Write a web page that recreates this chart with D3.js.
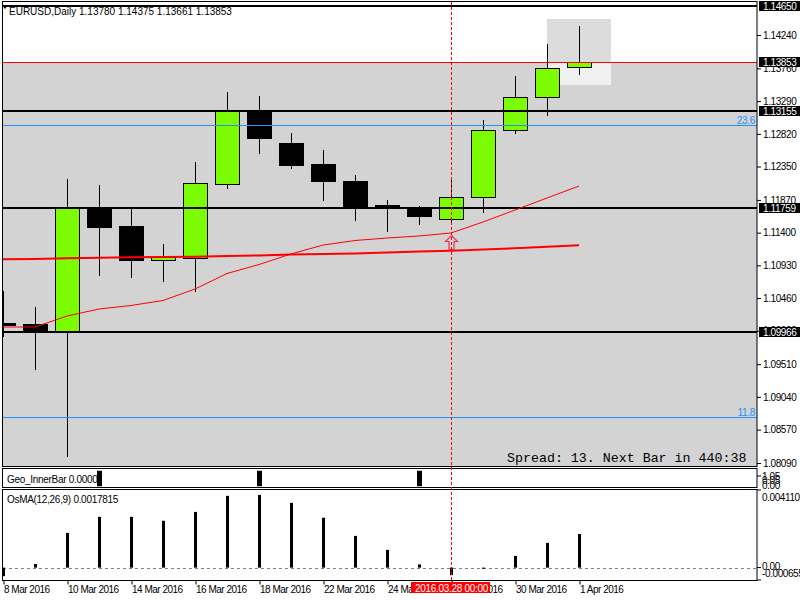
<!DOCTYPE html>
<html>
<head>
<meta charset="utf-8">
<script src="https://cdnjs.cloudflare.com/ajax/libs/d3/7.8.5/d3.min.js"></script>
<style>
  body { margin: 0; background: #fff; }
  svg text { font-family: "Liberation Sans", Arial, sans-serif; font-size: 10px; }
</style>
</head>
<body>
<div id="chart"></div>
<script>
// EURUSD daily bars
const dates = ["2016-03-08", "2016-03-09", "2016-03-10", "2016-03-11", "2016-03-14", "2016-03-15",
    "2016-03-16", "2016-03-17", "2016-03-18", "2016-03-21", "2016-03-22", "2016-03-23", "2016-03-24",
    "2016-03-25", "2016-03-28", "2016-03-29", "2016-03-30", "2016-03-31", "2016-04-01"];
const opens  = [1.10102, 1.10087, 1.09972, 1.11754, 1.11495, 1.11000, 1.11036, 1.12106, 1.13155, 1.12681,
    1.12386, 1.12142, 1.11797, 1.11761, 1.11596, 1.11919, 1.12882, 1.13356, 1.13780];
const highs  = [1.10561, 1.10331, 1.12171, 1.12084, 1.11754, 1.11237, 1.12415, 1.13421, 1.13363, 1.12832,
    1.12587, 1.12228, 1.11869, 1.11783, 1.12156, 1.13019, 1.13651, 1.14111, 1.14375];
const lows   = [1.09900, 1.09426, 1.08176, 1.10777, 1.10748, 1.10691, 1.10547, 1.12027, 1.12530, 1.12314,
    1.11855, 1.11567, 1.11409, 1.11510, 1.11510, 1.11682, 1.12817, 1.13076, 1.13661];
const closes = [1.10073, 1.09972, 1.11754, 1.11481, 1.11000, 1.11050, 1.12113, 1.13141, 1.12753, 1.12379,
    1.12135, 1.11790, 1.11761, 1.11646, 1.11919, 1.12882, 1.13342, 1.13773, 1.13853];

// moving averages
const maFast = [1.10044, 1.10044, 1.10202, 1.10303, 1.10353, 1.10425, 1.10590, 1.10813, 1.10942, 1.11093,
    1.11222, 1.11287, 1.11323, 1.11352, 1.11395, 1.11553, 1.11725, 1.11898, 1.12070];
const maSlow = [1.11017, 1.11021, 1.11031, 1.11040, 1.11046, 1.11050, 1.11054, 1.11064, 1.11071, 1.11086,
    1.11093, 1.11100, 1.11115, 1.11129, 1.11140, 1.11158, 1.11175, 1.11196, 1.11218];

// indicators
const innerBar = [0, 0, 0, 1, 0, 0, 0, 0, 1, 0, 0, 0, 0, 1, 0, 0, 0, 0, 0];
const osma = [-0.00045, 0.00019, 0.00184, 0.00269, 0.00269, 0.00248, 0.00295, 0.00380, 0.00385, 0.00343,
    0.00264, 0.00168, 0.00094, 0.00017, -0.00040, -0.00006, 0.00062, 0.00131, 0.0017815];

// axis ticks
const priceTicks = [1.14240, 1.13760, 1.13290, 1.12820, 1.12350, 1.11870, 1.11400, 1.10930, 1.10460,
    1.09990, 1.09510, 1.09040, 1.08570, 1.08090];
const dateTicks = ["2016-03-08", "2016-03-10", "2016-03-14", "2016-03-16", "2016-03-18", "2016-03-22",
    "2016-03-24", "2016-03-28", "2016-03-30", "2016-04-01"];
const dateTickLabels = ["8 Mar 2016", "10 Mar 2016", "14 Mar 2016", "16 Mar 2016", "18 Mar 2016",
    "22 Mar 2016", "24 Mar 2016", "28 Mar 2016", "30 Mar 2016", "1 Apr 2016"];

// chart objects
const levelPrices = [1.14650, 1.13155, 1.11759, 1.09966];
const bidPrice = 1.13853;
const fiboNames = ["23.6", "11.8"];
const fiboPrices = [1.12947, 1.08751];
const boxDates = ["2016-03-31", "2016-04-01"];
const boxPrices = [1.14470, 1.13522];
const arrowDate = "2016-03-28";
const arrowPrice = 1.11366;
const crossDate = "2016-03-28";

const L = 3, R = 757;
const mainTop = 2, mainBottom = 466;

const svg = d3.select("#chart").append("svg")
    .attr("width", 800)
    .attr("height", 600);

const x = d3.scalePoint().domain(dates).range([3, 579]);
const y = d3.scaleLinear().domain([1.08090, 1.14240]).range([463, 35]);
const yGeo = d3.scaleLinear().domain([-0.05, 1.05]).range([487, 470]);
const yOsma = d3.scaleLinear().domain([-0.000655, 0.004110]).range([580, 490]);

svg.append("defs").append("clipPath").attr("id", "clipMain")
    .append("rect").attr("x", L).attr("y", mainTop).attr("width", R - L).attr("height", mainBottom - mainTop);

const main = svg.append("g").attr("clip-path", "url(#clipMain)");

// grey area below the bid price
main.append("rect")
    .attr("x", L).attr("width", R - L)
    .attr("y", Math.round(y(bidPrice)))
    .attr("height", mainBottom - Math.round(y(bidPrice)))
    .attr("fill", "#d3d3d3");

// highlight box on the last bar
const bx0 = x(boxDates[0]), bx1 = x(boxDates[1]) + x.step();
main.append("rect")
    .attr("x", bx0).attr("width", bx1 - bx0)
    .attr("y", y(boxPrices[0])).attr("height", Math.round(y(bidPrice)) - y(boxPrices[0]))
    .attr("fill", "#dcdcdc");
main.append("rect")
    .attr("x", bx0).attr("width", bx1 - bx0)
    .attr("y", Math.round(y(bidPrice))).attr("height", y(boxPrices[1]) - Math.round(y(bidPrice)))
    .attr("fill", "#f0f0f0");

// candles
const bars = dates.map((d, i) => ({ d, o: opens[i], h: highs[i], l: lows[i], c: closes[i] }));
const candle = main.append("g").selectAll("g")
    .data(bars)
    .enter().append("g");

candle.append("line")
    .attr("x1", d => x(d.d) + 0.5).attr("x2", d => x(d.d) + 0.5)
    .attr("y1", d => Math.round(y(d.h))).attr("y2", d => Math.round(y(d.l)))
    .attr("stroke", "#000")
    .attr("stroke-width", 1);

candle.append("rect")
    .attr("x", d => x(d.d) - 11.5)
    .attr("width", 24)
    .attr("y", d => Math.round(y(Math.max(d.o, d.c))) + 0.5)
    .attr("height", d => Math.max(1, Math.round(y(Math.min(d.o, d.c))) - Math.round(y(Math.max(d.o, d.c)))))
    .attr("fill", d => d.c >= d.o ? "#7cfc00" : "#000")
    .attr("stroke", "#000")
    .attr("stroke-width", 1);

// fibo lines
main.selectAll(".fibo")
    .data(fiboPrices)
    .enter().append("line")
    .attr("x1", L).attr("x2", R)
    .attr("y1", d => Math.round(y(d)) + 0.5).attr("y2", d => Math.round(y(d)) + 0.5)
    .attr("stroke", "#1e90ff")
    .attr("shape-rendering", "crispEdges");

main.selectAll(".fiboLabel")
    .data(fiboPrices)
    .enter().append("text")
    .attr("x", 755)
    .attr("y", d => Math.round(y(d)) - 1)
    .attr("text-anchor", "end")
    .attr("fill", "#1e90ff")
    .attr("letter-spacing", "-0.3")
    .text((d, i) => fiboNames[i]);

// horizontal levels
main.selectAll(".level")
    .data(levelPrices)
    .enter().append("line")
    .attr("x1", L).attr("x2", R)
    .attr("y1", d => Math.round(y(d))).attr("y2", d => Math.round(y(d)))
    .attr("stroke", "#000")
    .attr("stroke-width", 2);

main.append("line")
    .attr("x1", L).attr("x2", R)
    .attr("y1", Math.round(y(bidPrice)) + 0.5).attr("y2", Math.round(y(bidPrice)) + 0.5)
    .attr("stroke", "#ff0000")
    .attr("shape-rendering", "crispEdges");

// moving averages
const maLine = d3.line()
    .x((d, i) => x(dates[i]))
    .y(d => y(d));

main.append("path")
    .datum(maSlow)
    .attr("d", maLine)
    .attr("fill", "none")
    .attr("stroke", "#ff0000")
    .attr("stroke-width", 2);

main.append("path")
    .datum(maFast)
    .attr("d", maLine)
    .attr("fill", "none")
    .attr("stroke", "#ff0000")
    .attr("stroke-width", 1);

// up arrow signal
const ax = x(arrowDate), ay = y(arrowPrice);
main.append("path")
    .attr("d", `M${ax},${ay} l6,6 h-3.5 v8 h-5 v-8 h-3.5 z`)
    .attr("transform", "translate(0.5,0.5)")
    .attr("fill", "none")
    .attr("stroke", "#f0304c")
    .attr("stroke-width", 1.2);

main.append("text")
    .attr("x", 507)
    .attr("y", 462)
    .style("font-family", "'Liberation Mono', 'Courier New', monospace")
    .style("font-size", "13.3px")
    .attr("fill", "#000")
    .text("Spread: 13. Next Bar in 440:38");

// geo inner bar panel
svg.append("g").selectAll("rect")
    .data(innerBar)
    .enter().append("rect")
    .attr("x", (d, i) => x(dates[i]) - 2)
    .attr("width", 5)
    .attr("y", d => yGeo(d))
    .attr("height", d => yGeo(0) - yGeo(d))
    .attr("fill", "#000");

// osma panel
svg.append("line")
    .attr("x1", L).attr("x2", R)
    .attr("y1", Math.round(yOsma(0)) + 0.5).attr("y2", Math.round(yOsma(0)) + 0.5)
    .attr("stroke", "#808080")
    .attr("stroke-dasharray", "3,3");

svg.append("g").selectAll("rect")
    .data(osma)
    .enter().append("rect")
    .attr("x", (d, i) => x(dates[i]) - 1)
    .attr("width", 3)
    .attr("y", d => Math.min(yOsma(d), yOsma(0)))
    .attr("height", d => Math.abs(yOsma(d) - yOsma(0)))
    .attr("fill", "#000");

// panel borders
[[1.5, 466.5], [468.5, 487.5], [489.5, 580.5]].forEach(p => {
    svg.append("rect")
        .attr("x", 2.5).attr("y", p[0])
        .attr("width", R - 2.5).attr("height", p[1] - p[0])
        .attr("fill", "none")
        .attr("stroke", "#000");
});

// crosshair
svg.append("line")
    .attr("x1", x(crossDate) + 0.5).attr("x2", x(crossDate) + 0.5)
    .attr("y1", 2).attr("y2", 580)
    .attr("stroke", "#ff0000")
    .attr("stroke-dasharray", "3,2");

// panel labels
svg.append("path").attr("d", "M2,5 h6 l-3,4 z").attr("fill", "#000");
svg.append("text").attr("x", 9).attr("y", 15).attr("fill", "#000")
    .text(`EURUSD,Daily  ${opens[18].toFixed(5)} ${highs[18].toFixed(5)} ${lows[18].toFixed(5)} ${closes[18].toFixed(5)}`);
svg.append("text").attr("x", 7).attr("y", 483).attr("fill", "#000").attr("letter-spacing", "-0.3")
    .text("Geo_InnerBar  0.0000");
svg.append("text").attr("x", 7).attr("y", 502.5).attr("fill", "#000").attr("letter-spacing", "-0.3")
    .text(`OsMA(12,26,9) ${osma[18].toFixed(7)}`);

// price axis
const yAxis = svg.append("g")
    .attr("transform", `translate(${R},0)`)
    .call(d3.axisRight(y).tickValues(priceTicks).tickSize(4).tickPadding(2).tickFormat(d3.format(".5f")));
yAxis.select(".domain").remove();
yAxis.selectAll("text")
    .attr("fill", "#000")
    .attr("letter-spacing", "-0.4")
    .style("font-family", "'Liberation Sans', Arial, sans-serif")
    .style("font-size", "10px");

// level price tags
const tags = levelPrices.concat([bidPrice]);
svg.selectAll(".tag")
    .data(tags)
    .enter().append("rect")
    .attr("x", 759).attr("width", 41)
    .attr("y", d => Math.round(y(d)) - 5)
    .attr("height", 10)
    .attr("fill", "#000");
svg.selectAll(".tagText")
    .data(tags)
    .enter().append("text")
    .attr("x", 763)
    .attr("y", d => Math.round(y(d)) + 4)
    .attr("fill", "#fff")
    .attr("letter-spacing", "-0.4")
    .text(d => d.toFixed(5));

// indicator axis labels
const sideLabels = [["1.05", 479.5], ["0.05", 484], ["0.00", 489], ["0.004110", 500.5], ["0.00", 570], ["-0.000655", 577]];
svg.selectAll(".side")
    .data(sideLabels)
    .enter().append("text")
    .attr("x", 762)
    .attr("y", d => d[1])
    .attr("fill", "#000")
    .attr("letter-spacing", "-0.4")
    .text(d => d[0]);
[476, 490, 567.5, 580].forEach(t => {
    svg.append("line").attr("x1", R).attr("x2", R + 4).attr("y1", t).attr("y2", t).attr("stroke", "#000");
});

// date axis
const xAxis = svg.append("g")
    .attr("transform", "translate(0.5,580.5)")
    .call(d3.axisBottom(x).tickValues(dateTicks).tickSize(4).tickPadding(1.5)
        .tickFormat(d => dateTickLabels[dateTicks.indexOf(d)]));
xAxis.select(".domain").remove();
xAxis.selectAll("text")
    .attr("text-anchor", "start")
    .attr("x", 0)
    .attr("fill", "#000")
    .attr("letter-spacing", "-0.5")
    .style("font-family", "'Liberation Sans', Arial, sans-serif")
    .style("font-size", "10px");

// crosshair date tag
svg.append("rect")
    .attr("x", x(crossDate) - 40).attr("y", 582)
    .attr("width", 79).attr("height", 11)
    .attr("fill", "#ff0000");
svg.append("text")
    .attr("x", x(crossDate) + 0.5).attr("y", 591.5)
    .attr("text-anchor", "middle")
    .attr("fill", "#fff")
    .attr("letter-spacing", "-0.3")
    .text("2016.03.28 00:00");
</script>
</body>
</html>
